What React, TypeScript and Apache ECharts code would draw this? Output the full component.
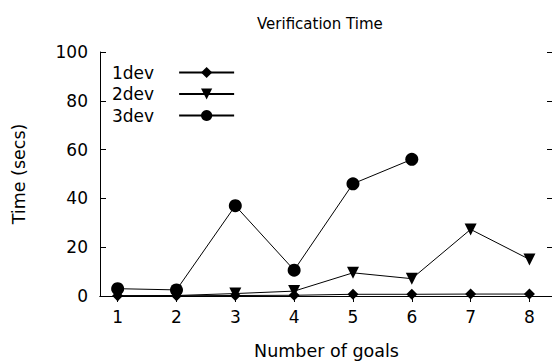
import React, { useEffect, useRef } from "react";
import * as echarts from "echarts";

const goals = [1, 2, 3, 4, 5, 6, 7, 8];
const dev1 = [0.1, 0.1, 0.2, 0.3, 0.7, 0.7, 0.8, 0.8];
const dev2 = [0.1, 0.2, 1.0, 2.0, 9.5, 7.1, 27.3, 15.0];
const dev3 = [3.0, 2.5, 37.0, 10.6, 46.0, 56.0];
const yTicks = [0, 20, 40, 60, 80, 100];

const FONT = "DejaVu Sans";

export default function App() {
  const ref = useRef<HTMLDivElement>(null);
  useEffect(() => {
    if (!ref.current) return;
    const chart = echarts.init(ref.current, null, { renderer: "svg" });
    const pairs = (vals: number[]) => vals.map((v, i) => [goals[i], v]);
    const lineStyle = { color: "#000", width: 1 };
    chart.setOption({
      animation: false,
      backgroundColor: "#fff",
      title: {
        text: "Verification Time",
        left: 252,
        top: 11,
        textStyle: { fontFamily: FONT, fontSize: 15, fontWeight: "normal", color: "#000" },
      },
      legend: {
        data: ["1dev", "2dev", "3dev"],
        orient: "vertical",
        left: 112,
        top: 64,
        padding: 0,
        align: "right",
        itemWidth: 55,
        itemHeight: 14,
        itemGap: 4.5,
        textStyle: { fontFamily: FONT, fontSize: 17, color: "#000", padding: [0, 20, 0, 0] },
      },
      grid: { left: 100, right: -1, top: 52, bottom: 65, outerBoundsMode: "none", containLabel: false },
      xAxis: [
        {
          type: "value",
          min: 0.7,
          max: 8.4,
          name: "Number of goals",
          nameLocation: "middle",
          nameGap: 46,
          nameTextStyle: { fontFamily: FONT, fontSize: 17.5, color: "#000" },
          axisLine: { lineStyle: { color: "#000", width: 1 } },
          axisTick: { inside: true, length: 6, customValues: goals, lineStyle: { color: "#000" } },
          axisLabel: { customValues: goals, fontFamily: FONT, fontSize: 17, color: "#000", margin: 12 },
          splitLine: { show: false },
        },
        {
          type: "value",
          position: "top",
          min: 0.7,
          max: 8.4,
          axisLine: { lineStyle: { color: "#000", width: 1 } },
          axisTick: { inside: true, length: 6, customValues: goals, lineStyle: { color: "#000" } },
          axisLabel: { show: false },
          splitLine: { show: false },
        },
      ],
      yAxis: [
        {
          type: "value",
          min: 0,
          max: 100,
          interval: 20,
          name: "Time (secs)",
          nameLocation: "middle",
          nameGap: 72,
          nameTextStyle: { fontFamily: FONT, fontSize: 17.5, color: "#000" },
          axisLine: { show: true, lineStyle: { color: "#000", width: 1 } },
          axisTick: { show: true, inside: true, length: 6, lineStyle: { color: "#000" } },
          axisLabel: {
            fontFamily: FONT,
            fontSize: 17,
            color: "#000",
            margin: 12,
            formatter: (v: number) => (yTicks.includes(v) ? String(v) : ""),
          },
          splitLine: { show: false },
        },
        {
          type: "value",
          position: "right",
          min: 0,
          max: 100,
          interval: 20,
          axisLine: { show: true, lineStyle: { color: "#000", width: 1 } },
          axisTick: { show: true, inside: true, length: 6, lineStyle: { color: "#000" } },
          axisLabel: { show: false },
          splitLine: { show: false },
        },
      ],
      series: [
        {
          name: "1dev",
          type: "line",
          data: pairs(dev1),
          symbol: "diamond",
          symbolSize: 11,
          lineStyle,
          itemStyle: { color: "#000" },
          z: 3,
        },
        {
          name: "2dev",
          type: "line",
          data: pairs(dev2),
          symbol: "triangle",
          symbolRotate: 180,
          symbolSize: 12,
          lineStyle,
          itemStyle: { color: "#000" },
          z: 4,
        },
        {
          name: "3dev",
          type: "line",
          data: pairs(dev3),
          symbol: "circle",
          symbolSize: 13,
          lineStyle,
          itemStyle: { color: "#000" },
          z: 5,
        },
      ],
    });
    return () => chart.dispose();
  }, []);
  return <div ref={ref} style={{ width: 552, height: 361, position: "absolute", left: 0, top: 0 }} />;
}
